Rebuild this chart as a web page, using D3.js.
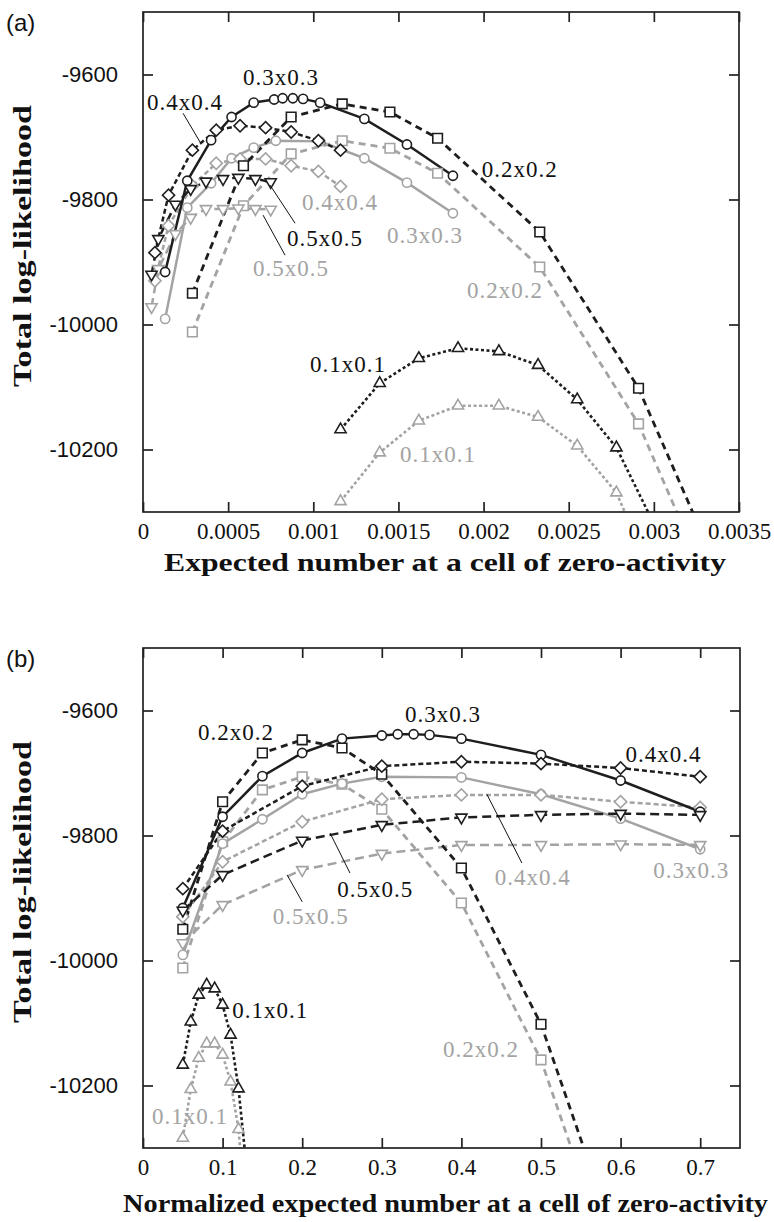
<!DOCTYPE html>
<html>
<head>
<meta charset="utf-8">
<script src="https://cdn.jsdelivr.net/npm/d3@7"></script>
<style>
    body { margin: 0; background: #fff; }
    svg { display: block; }
</style>
</head>
<body>
<div id="chart"></div>
<script>
// ---------- data: panel (a), expected number at a cell of zero-activity ----------
const aX01 = [0.00116, 0.00139, 0.00162, 0.00185, 0.00209, 0.00232, 0.00255, 0.00278, 0.00302]
const aBlack01 = [-10168, -10094, -10054, -10038, -10043, -10065, -10120, -10197, -10330]
const aGray01 = [-10283, -10205, -10154, -10130, -10130, -10148, -10194, -10269, -10420]

const aX02 = [0.00029, 0.00059, 0.00087, 0.00117, 0.00145, 0.00173, 0.00233, 0.00291, 0.0035]
const aBlack02 = [-9950, -9746, -9668, -9647, -9660, -9702, -9852, -10102, -10470]
const aGray02 = [-10012, -9810, -9727, -9706, -9718, -9758, -9908, -10159, -10530]

const aX03Black = [0.00013, 0.00026, 0.0004, 0.00052, 0.00065, 0.00077, 0.00082, 0.00088, 0.00094, 0.00104, 0.0013, 0.00155, 0.00182]
const aBlack03 = [-9916, -9770, -9705, -9668, -9645, -9640, -9638, -9638, -9639, -9645, -9671, -9712, -9762]
const aX03Gray = [0.00013, 0.00026, 0.0004, 0.00052, 0.00065, 0.00078, 0.00104, 0.0013, 0.00155, 0.00182]
const aGray03 = [-9991, -9813, -9774, -9734, -9717, -9706, -9707, -9734, -9773, -9822]

const aX04 = [0.00007, 0.00015, 0.00029, 0.00043, 0.00057, 0.00072, 0.00087, 0.00103, 0.00116]
const aBlack04 = [-9885, -9793, -9721, -9689, -9682, -9685, -9692, -9706, -9721]
const aGray04 = [-9930, -9842, -9778, -9742, -9735, -9735, -9746, -9755, -9779]

const aX05 = [0.00005, 0.00009, 0.00019, 0.00028, 0.00037, 0.00047, 0.00056, 0.00066, 0.00075]
const aBlack05 = [-9920, -9863, -9808, -9783, -9771, -9767, -9765, -9767, -9772]
const aGray05 = [-9972, -9911, -9855, -9829, -9815, -9815, -9814, -9815, -9816]

// ---------- data: panel (b), normalized expected number ----------
const bX01 = [0.05, 0.06, 0.07, 0.08, 0.09, 0.10, 0.11, 0.12, 0.13]
const bBlack01 = [-10167, -10098, -10055, -10039, -10045, -10071, -10119, -10205, -10330]
const bGray01 = [-10284, -10206, -10156, -10133, -10133, -10151, -10194, -10270, -10420]

const bX02 = [0.05, 0.1, 0.15, 0.2, 0.25, 0.3, 0.4, 0.5, 0.6]
const bBlack02 = [-9950, -9746, -9668, -9647, -9660, -9702, -9852, -10102, -10470]
const bGray02 = [-10012, -9810, -9727, -9706, -9718, -9758, -9908, -10159, -10530]

const bX03Black = [0.05, 0.1, 0.15, 0.2, 0.25, 0.3, 0.32, 0.34, 0.36, 0.4, 0.5, 0.6, 0.7]
const bBlack03 = [-9916, -9770, -9705, -9668, -9645, -9640, -9638, -9638, -9639, -9645, -9671, -9712, -9762]
const bX03Gray = [0.05, 0.1, 0.15, 0.2, 0.25, 0.3, 0.4, 0.5, 0.6, 0.7]
const bGray03 = [-9991, -9813, -9774, -9734, -9717, -9706, -9707, -9734, -9773, -9822]

const bX04 = [0.05, 0.1, 0.2, 0.3, 0.4, 0.5, 0.6, 0.7]
const bBlack04 = [-9885, -9793, -9721, -9689, -9682, -9685, -9692, -9706]
const bGray04 = [-9930, -9842, -9778, -9742, -9735, -9735, -9746, -9755]

const bX05 = [0.05, 0.1, 0.2, 0.3, 0.4, 0.5, 0.6, 0.7]
const bBlack05 = [-9920, -9863, -9808, -9783, -9771, -9767, -9765, -9767]
const bGray05 = [-9972, -9911, -9855, -9829, -9815, -9815, -9814, -9815]

// ---------- ticks ----------
const yTickValues = [-9600, -9800, -10000, -10200]
const yTickLabels = ["-9600", "-9800", "-10000", "-10200"]
const aTickValues = [0, 0.0005, 0.001, 0.0015, 0.002, 0.0025, 0.003, 0.0035]
const aTickLabels = ["0", "0.0005", "0.001", "0.0015", "0.002", "0.0025", "0.003", "0.0035"]
const bTickValues = [0, 0.1, 0.2, 0.3, 0.4, 0.5, 0.6, 0.7]
const bTickLabels = ["0", "0.1", "0.2", "0.3", "0.4", "0.5", "0.6", "0.7"]

// curve labels [text, shade, x, y] in data units, and leader lines [x1, y1, x2, y2]
const aLabels = [
    ["0.3x0.3", "black", 0.000587, -9617], ["0.4x0.4", "black", 0.0000235, -9657],
    ["0.4x0.4", "gray", 0.000934, -9817], ["0.5x0.5", "black", 0.000846, -9874],
    ["0.5x0.5", "gray", 0.000646, -9922], ["0.2x0.2", "black", 0.00199, -9764],
    ["0.3x0.3", "gray", 0.001433, -9870], ["0.2x0.2", "gray", 0.001903, -9958],
    ["0.1x0.1", "black", 0.00098, -10076], ["0.1x0.1", "gray", 0.001509, -10220]
]
const aLeaders = [
    [0.000235, -9662, 0.000335, -9708],
    [0.000893, -9838, 0.000746, -9777],
    [0.000834, -9889, 0.000705, -9825]
]
const bLabels = [
    ["0.2x0.2", "black", 0.0691, -9647], ["0.3x0.3", "black", 0.329, -9618],
    ["0.4x0.4", "black", 0.606, -9682], ["0.5x0.5", "black", 0.244, -9898],
    ["0.5x0.5", "gray", 0.163, -9942], ["0.4x0.4", "gray", 0.442, -9879],
    ["0.3x0.3", "gray", 0.641, -9868], ["0.2x0.2", "gray", 0.377, -10154],
    ["0.1x0.1", "black", 0.112, -10092], ["0.1x0.1", "gray", 0.0113, -10262]
]
const bLeaders = [
    [0.235, -9796, 0.260, -9860],
    [0.181, -9863, 0.200, -9906],
    [0.432, -9734, 0.476, -9844]
]

const colors = { black: "#1e1e1e", gray: "#a3a3a3" }
const styles = {
    "0.1": { dash: "3,2.5", width: 2.6, marker: "triangleUp" },
    "0.2": { dash: "7,5", width: 2.8, marker: "square" },
    "0.3": { dash: null, width: 2.5, marker: "circle" },
    "0.4": { dash: "5,3", width: 2.5, marker: "diamond" },
    "0.5": { dash: "9,5", width: 2.5, marker: "triangleDown" }
}

function series(size, shade, xs, ys) {
    return { size: size, shade: shade, points: xs.map((x, i) => ({ x: x, y: ys[i] })) }
}

const aSeries = [
    series("0.1", "gray", aX01, aGray01), series("0.2", "gray", aX02, aGray02),
    series("0.3", "gray", aX03Gray, aGray03), series("0.4", "gray", aX04, aGray04),
    series("0.5", "gray", aX05, aGray05),
    series("0.1", "black", aX01, aBlack01), series("0.2", "black", aX02, aBlack02),
    series("0.3", "black", aX03Black, aBlack03), series("0.4", "black", aX04, aBlack04),
    series("0.5", "black", aX05, aBlack05)
]
const bSeries = [
    series("0.1", "gray", bX01, bGray01), series("0.2", "gray", bX02, bGray02),
    series("0.3", "gray", bX03Gray, bGray03), series("0.4", "gray", bX04, bGray04),
    series("0.5", "gray", bX05, bGray05),
    series("0.1", "black", bX01, bBlack01), series("0.2", "black", bX02, bBlack02),
    series("0.3", "black", bX03Black, bBlack03), series("0.4", "black", bX04, bBlack04),
    series("0.5", "black", bX05, bBlack05)
]

var width = 774, height = 1222

var svg = d3.select("#chart").append("svg")
    .attr("width", width)
    .attr("height", height)

function markerPath(kind) {
    if (kind === "square") return d3.symbol(d3.symbolSquare, 92)()
    if (kind === "circle") return d3.symbol(d3.symbolCircle, 66)()
    if (kind === "diamond") return d3.symbol(d3.symbolSquare, 74)()
    return d3.symbol(d3.symbolTriangle, 54)()
}
function markerRotate(kind) {
    if (kind === "diamond") return 45
    if (kind === "triangleDown") return 180
    return 0
}

function drawPanel(p) {
    var x = d3.scaleLinear().domain(p.xDomain).range([p.left, p.right])
    var y = d3.scaleLinear().domain([-10300, -9500]).range([p.bottom, p.top])

    var g = svg.append("g")

    g.append("clipPath").attr("id", "clip-" + p.id)
        .append("rect")
        .attr("x", p.left).attr("y", p.top)
        .attr("width", p.right - p.left).attr("height", p.bottom - p.top)

    var plot = g.append("g").attr("clip-path", `url(#clip-${p.id})`)
    var line = d3.line().x(d => x(d.x)).y(d => y(d.y))

    p.series.forEach(s => {
        var st = styles[s.size]
        plot.append("path")
            .datum(s.points)
            .attr("d", line)
            .attr("fill", "none")
            .attr("stroke", colors[s.shade])
            .attr("stroke-width", st.width)
            .attr("stroke-dasharray", st.dash)
    })

    p.series.forEach(s => {
        var st = styles[s.size]
        plot.selectAll(null)
            .data(s.points.filter(d => d.y >= -10300 && d.x <= p.xDomain[1]))
            .enter().append("path")
            .attr("d", markerPath(st.marker))
            .attr("transform", d => `translate(${x(d.x)},${y(d.y)}) rotate(${markerRotate(st.marker)})`)
            .attr("fill", "white")
            .attr("stroke", colors[s.shade])
            .attr("stroke-width", 1.6)
    })

    // leader lines and curve labels
    g.selectAll(null).data(p.leaders).enter().append("line")
        .attr("x1", d => x(d[0])).attr("y1", d => y(d[1]))
        .attr("x2", d => x(d[2])).attr("y2", d => y(d[3]))
        .attr("stroke", "#111").attr("stroke-width", 1)

    g.selectAll(null).data(p.labels).enter().append("text")
        .attr("x", d => x(d[2])).attr("y", d => y(d[3]))
        .attr("fill", d => d[1] === "black" ? "#111" : "#a3a3a3")
        .style("font-family", "'Liberation Serif', serif")
        .style("font-size", "23px")
        .style("letter-spacing", "1px")
        .text(d => d[0])

    // frame
    g.append("rect")
        .attr("x", p.left).attr("y", p.top)
        .attr("width", p.right - p.left).attr("height", p.bottom - p.top)
        .attr("fill", "none").attr("stroke", "#222").attr("stroke-width", 1.7)

    // inward ticks on all four sides
    var xAxisB = d3.axisBottom(x).tickValues(p.xTicks).tickSize(-10).tickFormat((d, i) => p.xLabels[i]).tickPadding(11)
    var xAxisT = d3.axisTop(x).tickValues(p.xTicks).tickSize(-10).tickFormat("")
    var yAxisL = d3.axisLeft(y).tickValues(yTickValues).tickSize(-10).tickFormat((d, i) => yTickLabels[i]).tickPadding(25)
    var yAxisR = d3.axisRight(y).tickValues(yTickValues).tickSize(-10).tickFormat("")

    var axes = [
        g.append("g").attr("transform", `translate(0,${p.bottom})`).call(xAxisB),
        g.append("g").attr("transform", `translate(0,${p.top})`).call(xAxisT),
        g.append("g").attr("transform", `translate(${p.left},0)`).call(yAxisL),
        g.append("g").attr("transform", `translate(${p.right},0)`).call(yAxisR)
    ]
    axes.forEach(a => {
        a.select(".domain").remove()
        a.selectAll(".tick line").attr("stroke", "#222").attr("stroke-width", 1.7)
    })
    axes[0].selectAll("text")
        .style("font-family", "'Liberation Serif', serif")
        .style("font-size", "23px")
        .attr("fill", "#111")
    axes[2].selectAll("text")
        .style("font-family", "'Liberation Sans', Arial, sans-serif")
        .style("font-size", "22px")
        .attr("fill", "#111")

    // axis titles
    g.append("text")
        .attr("x", (p.left + p.right) / 2 + 4)
        .attr("y", p.bottom + p.xTitleGap)
        .attr("text-anchor", "middle")
        .attr("textLength", p.xTitleLength)
        .attr("lengthAdjust", "spacingAndGlyphs")
        .style("font-family", "'Liberation Serif', serif")
        .style("font-weight", "bold")
        .style("font-size", "25px")
        .attr("fill", "#111")
        .text(p.xTitle)

    g.append("text")
        .attr("transform", `translate(31,${(p.top + p.bottom) / 2 - 16}) rotate(-90)`)
        .attr("text-anchor", "middle")
        .attr("textLength", 282)
        .attr("lengthAdjust", "spacingAndGlyphs")
        .style("font-family", "'Liberation Serif', serif")
        .style("font-weight", "bold")
        .style("font-size", "25px")
        .attr("fill", "#111")
        .text("Total log-likelihood")

    g.append("text")
        .attr("x", 6).attr("y", p.top + 19)
        .style("font-family", "'Liberation Sans', Arial, sans-serif")
        .style("font-size", "24px")
        .attr("fill", "#111")
        .text(p.tag)
}

drawPanel({
    id: "a", tag: "(a)", top: 12, bottom: 512, left: 143, right: 739,
    xDomain: [0, 0.0035], xTicks: aTickValues, xLabels: aTickLabels,
    xTitle: "Expected number at a cell of zero-activity", xTitleLength: 562, xTitleGap: 59,
    series: aSeries, labels: aLabels, leaders: aLeaders
})
drawPanel({
    id: "b", tag: "(b)", top: 648, bottom: 1148, left: 143, right: 740,
    xDomain: [0, 0.75], xTicks: bTickValues, xLabels: bTickLabels,
    xTitle: "Normalized expected number at a cell of zero-activity", xTitleLength: 645, xTitleGap: 64,
    series: bSeries, labels: bLabels, leaders: bLeaders
})
</script>
</body>
</html>
